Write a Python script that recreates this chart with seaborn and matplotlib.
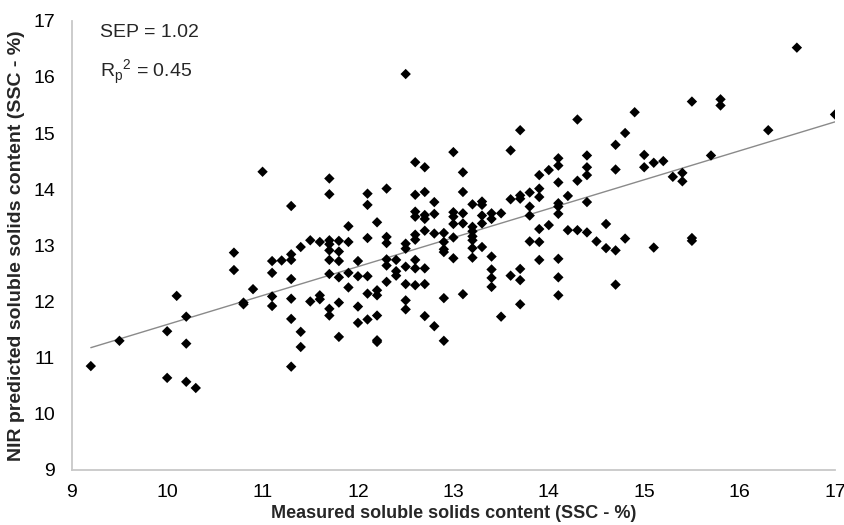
import numpy as np
import pandas as pd
import matplotlib
matplotlib.use("Agg")
import matplotlib.pyplot as plt
import seaborn as sns
from matplotlib import font_manager

# ---- data ----
measured_x = [
    9.2, 9.5, 10.0, 10.0, 10.1, 10.2, 10.2, 10.2, 10.3, 10.7, 10.7, 10.8, 10.8, 10.9, 11.0,
    11.1, 11.1, 11.1, 11.1, 11.2,
    11.3, 11.3, 11.3, 11.3, 11.3, 11.3, 11.3,
    11.4, 11.4, 11.4, 11.5, 11.5, 11.6, 11.6, 11.6,
    11.7, 11.7, 11.7, 11.7, 11.7, 11.7, 11.7, 11.7, 11.7,
    11.8, 11.8, 11.8, 11.8, 11.8, 11.8,
    11.9, 11.9, 11.9, 11.9,
    12.0, 12.0, 12.0, 12.0,
    12.1, 12.1, 12.1, 12.1, 12.1, 12.1,
    12.2, 12.2, 12.2, 12.2, 12.2, 12.2,
    12.3, 12.3, 12.3, 12.3, 12.3, 12.3,
    12.4, 12.4, 12.4,
    12.5, 12.5, 12.5, 12.5, 12.5, 12.5, 12.5,
    12.6, 12.6, 12.6, 12.6, 12.6, 12.6, 12.6, 12.6, 12.6,
    12.7, 12.7, 12.7, 12.7, 12.7, 12.7, 12.7, 12.7,
    12.8, 12.8, 12.8, 12.8,
    12.9, 12.9, 12.9, 12.9, 12.9, 12.9,
    13.0, 13.0, 13.0, 13.0, 13.0, 13.0,
    13.1, 13.1, 13.1, 13.1, 13.1,
    13.2, 13.2, 13.2, 13.2, 13.2, 13.2, 13.2,
    13.3, 13.3, 13.3, 13.3, 13.3,
    13.4, 13.4, 13.4, 13.4, 13.4, 13.4,
    13.5, 13.5,
    13.6, 13.6, 13.6,
    13.7, 13.7, 13.7, 13.7, 13.7, 13.7,
    13.8, 13.8, 13.8, 13.8,
    13.9, 13.9, 13.9, 13.9, 13.9, 13.9,
    14.0, 14.0,
    14.1, 14.1, 14.1, 14.1, 14.1, 14.1, 14.1, 14.1, 14.1,
    14.2, 14.2,
    14.3, 14.3, 14.3,
    14.4, 14.4, 14.4, 14.4, 14.4,
    14.5, 14.6, 14.6,
    14.7, 14.7, 14.7, 14.7,
    14.8, 14.8, 14.9,
    15.0, 15.0, 15.1, 15.1, 15.2, 15.3, 15.4, 15.4,
    15.5, 15.5, 15.5, 15.7, 15.8, 15.8, 16.3, 16.6, 17.0,
]
predicted_y = [
    10.85, 11.30, 11.47, 10.64, 12.10, 11.73, 11.25, 10.57, 10.46, 12.87, 12.56, 11.98, 11.95, 12.22, 14.31,
    12.72, 12.51, 12.09, 11.92, 12.73,
    13.70, 12.84, 12.74, 12.40, 12.05, 11.69, 10.84,
    12.97, 11.46, 11.19, 13.09, 12.00, 13.06, 12.11, 12.04,
    14.19, 13.91, 13.09, 13.02, 12.91, 12.74, 12.49, 11.87, 11.75,
    13.08, 12.89, 12.72, 12.43, 11.98, 11.37,
    13.34, 13.06, 12.51, 12.25,
    12.72, 12.45, 11.91, 11.62,
    13.92, 13.72, 13.13, 12.45, 12.14, 11.68,
    13.41, 12.20, 12.11, 11.75, 11.31, 11.28,
    14.01, 13.15, 13.04, 12.75, 12.64, 12.35,
    12.74, 12.54, 12.46,
    16.05, 13.03, 12.94, 12.62, 12.31, 12.02, 11.86,
    14.48, 13.90, 13.60, 13.51, 13.19, 13.10, 12.74, 12.59, 12.29,
    14.39, 13.95, 13.54, 13.47, 13.26, 12.59, 12.31, 11.74,
    13.77, 13.56, 13.21, 11.56,
    13.22, 13.06, 12.93, 12.88, 12.06, 11.30,
    14.66, 13.59, 13.51, 13.38, 13.14, 12.77,
    14.30, 13.95, 13.57, 13.39, 12.13,
    13.73, 13.33, 13.25, 13.16, 13.09, 12.95, 12.78,
    13.78, 13.72, 13.53, 13.39, 12.97,
    13.57, 13.47, 12.80, 12.57, 12.42, 12.26,
    13.57, 11.73,
    14.69, 13.82, 12.46,
    15.05, 13.89, 13.83, 12.58, 12.38, 11.95,
    13.94, 13.69, 13.53, 13.07,
    14.25, 14.01, 13.86, 13.29, 13.06, 12.74,
    14.34, 13.36,
    14.55, 14.42, 14.12, 13.75, 13.69, 13.56, 12.76, 12.43, 12.11,
    13.88, 13.27,
    15.24, 14.15, 13.27,
    14.60, 14.39, 14.25, 13.77, 13.23,
    13.07, 13.38, 12.95,
    14.79, 14.35, 12.91, 12.30,
    15.00, 13.12, 15.37,
    14.61, 14.39, 14.47, 12.96, 14.50, 14.22, 14.29, 14.14,
    15.56, 13.13, 13.08, 14.60, 15.60, 15.49, 15.05, 16.52, 15.33,
]
x_ticks = [9, 10, 11, 12, 13, 14, 15, 16, 17]
y_ticks = [9, 10, 11, 12, 13, 14, 15, 16, 17]
sep_text = "SEP = 1.02"
r2_text = r"R$_\mathregular{p}$$^\mathregular{2}$ = 0.45"
x_label = "Measured soluble solids content (SSC - %)"
y_label = "NIR predicted soluble solids content (SSC - %)"

df = pd.DataFrame({"measured": measured_x, "predicted": predicted_y})

sns.set_style("white")
names = {f.name for f in font_manager.fontManager.ttflist}
fam = "Liberation Sans Narrow" if "Liberation Sans Narrow" in names else "Liberation Sans"
plt.rcParams["font.family"] = [fam, "DejaVu Sans"]
plt.rcParams["mathtext.fontset"] = "custom"
plt.rcParams["mathtext.rm"] = fam

fig = plt.figure(figsize=(8.45, 5.25), dpi=100)
ax = fig.add_axes([0.0849, 0.1048, 0.9033, 0.8558])

sns.regplot(data=df, x="measured", y="predicted", scatter=False, ci=None,
            truncate=True, ax=ax, line_kws=dict(color="#8a8a8a", lw=1.0))
sns.scatterplot(data=df, x="measured", y="predicted", marker="D", s=28,
                color="black", edgecolor="none", ax=ax, zorder=3)

ax.set_xlim(9, 17)
ax.set_ylim(9, 17)
ax.set_xticks(x_ticks)
ax.set_yticks(y_ticks)
ax.tick_params(axis="both", direction="in", length=4, width=1, color="#c0c0c0",
               labelsize=14, labelcolor="black")
ax.tick_params(axis="y", pad=12)
ax.tick_params(axis="x", pad=10)
for s in ["top", "right"]:
    ax.spines[s].set_visible(False)
for s in ["left", "bottom"]:
    ax.spines[s].set_color("#c8c8c8")
    ax.spines[s].set_linewidth(1.3)

ax.set_xlabel(x_label, fontsize=13, fontweight="bold", labelpad=3)
ax.set_ylabel(y_label, fontsize=14, fontweight="bold", labelpad=6)

ax.text(9.30, 16.79, sep_text, fontsize=14, va="center", ha="left")
ax.text(9.30, 16.08, r2_text, fontsize=14, va="center", ha="left")

fig.savefig("out.png", dpi=100)
